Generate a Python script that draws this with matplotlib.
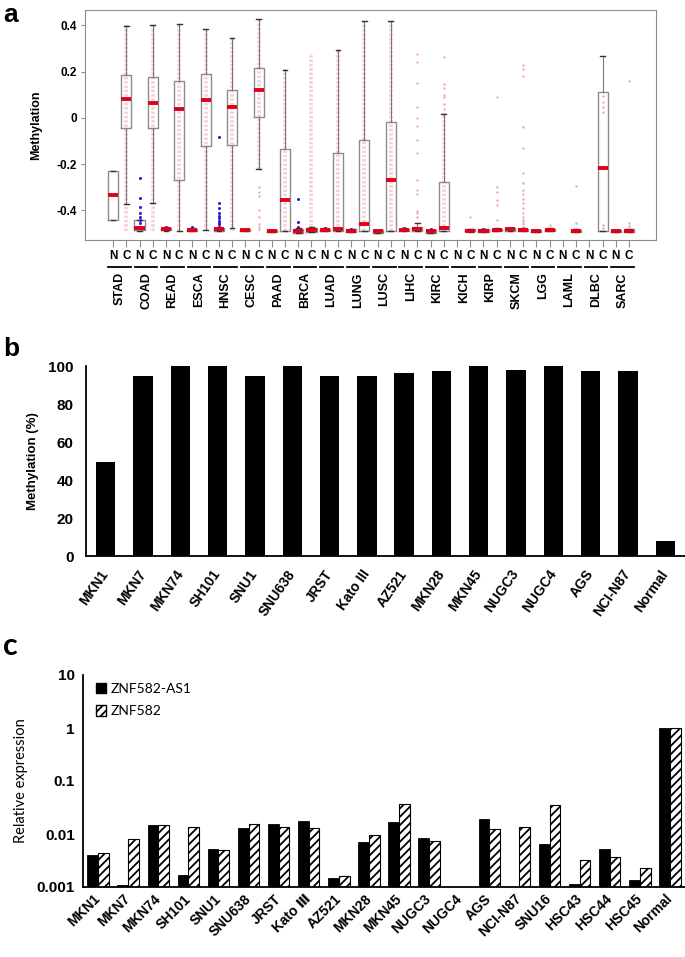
import numpy as np
import matplotlib
matplotlib.use("Agg")
import matplotlib.pyplot as plt
from matplotlib.patches import Patch
from matplotlib.transforms import blended_transform_factory

plt.rcParams["font.family"] = ["Liberation Sans", "DejaVu Sans"]
plt.rcParams["hatch.linewidth"] = 1.3

# ---------------- panel a : TCGA methylation, normal (N) vs cancer (C)
cancers = ["STAD", "COAD", "READ", "ESCA", "HNSC", "CESC", "PAAD", "BRCA", "LUAD", "LUNG",
           "LUSC", "LIHC", "KIRC", "KICH", "KIRP", "SKCM", "LGG", "LAML", "DLBC", "SARC"]

# box stats: (q1, median, q3, whisker low, whisker high); None = no normal samples
normal_stats = [
    (-0.442, -0.335, -0.230, -0.442, -0.230),
    (-0.485, -0.475, -0.442, -0.488, -0.440),
    (-0.485, -0.480, -0.475, -0.487, -0.473),
    (-0.490, -0.485, -0.479, -0.491, -0.477),
    (-0.489, -0.481, -0.475, -0.491, -0.472),
    (-0.490, -0.486, -0.481, -0.491, -0.480),
    (-0.493, -0.490, -0.485, -0.494, -0.484),
    (-0.496, -0.488, -0.479, -0.497, -0.476),
    (-0.490, -0.485, -0.480, -0.491, -0.478),
    (-0.494, -0.488, -0.482, -0.495, -0.480),
    (-0.496, -0.490, -0.484, -0.497, -0.483),
    (-0.489, -0.484, -0.479, -0.490, -0.477),
    (-0.496, -0.490, -0.484, -0.497, -0.483),
    None,
    (-0.494, -0.488, -0.482, -0.495, -0.480),
    (-0.488, -0.482, -0.477, -0.489, -0.476),
    (-0.494, -0.489, -0.484, -0.495, -0.483),
    None,
    None,
    (-0.494, -0.489, -0.484, -0.495, -0.483),
]
cancer_stats = [
    (-0.046, 0.081, 0.183, -0.374, 0.399),
    (-0.042, 0.062, 0.177, -0.367, 0.403),
    (-0.269, 0.037, 0.160, -0.489, 0.407),
    (-0.122, 0.075, 0.190, -0.485, 0.383),
    (-0.118, 0.045, 0.122, -0.475, 0.347),
    (0.004, 0.119, 0.214, -0.220, 0.427),
    (-0.489, -0.354, -0.135, -0.490, 0.206),
    (-0.492, -0.485, -0.477, -0.494, -0.470),
    (-0.489, -0.479, -0.150, -0.490, 0.292),
    (-0.489, -0.458, -0.094, -0.490, 0.417),
    (-0.488, -0.269, -0.019, -0.490, 0.417),
    (-0.489, -0.482, -0.470, -0.490, -0.453),
    (-0.489, -0.476, -0.276, -0.490, 0.016),
    (-0.491, -0.487, -0.481, -0.492, -0.479),
    (-0.490, -0.486, -0.479, -0.491, -0.476),
    (-0.490, -0.485, -0.479, -0.491, -0.476),
    (-0.490, -0.486, -0.480, -0.491, -0.478),
    (-0.493, -0.489, -0.483, -0.494, -0.481),
    (-0.488, -0.217, 0.112, -0.490, 0.266),
    (-0.492, -0.487, -0.481, -0.493, -0.479),
]
# range covered by the dense cloud of cancer samples (None = sparse only)
cancer_cloud = [(-0.49, 0.40), (-0.49, 0.40), (-0.49, 0.41), (-0.49, 0.38), (-0.49, 0.35),
                (-0.22, 0.43), (-0.49, 0.21), (-0.49, 0.28), (-0.49, 0.29), (-0.49, 0.42),
                (-0.49, 0.42), None, (-0.49, 0.02), None, None, None, None, None, None, None]
cancer_points = {
    "CESC": [-0.30, -0.32, -0.34, -0.40, -0.43, -0.46, -0.47, -0.48],
    "LIHC": [0.278, 0.242, 0.151, 0.047, 0.001, -0.036, -0.096, -0.154, -0.269, -0.312,
             -0.33, -0.401, -0.413, -0.43],
    "KIRC": [0.263, 0.148, 0.13, 0.10, 0.09, 0.06, 0.04],
    "KICH": [-0.429],
    "KIRP": [0.088, -0.30, -0.32, -0.355, -0.375, -0.44],
    "SKCM": [0.227, 0.21, 0.18, -0.039, -0.132, -0.24, -0.28, -0.31, -0.33, -0.35, -0.37,
             -0.39, -0.41, -0.43, -0.44, -0.45, -0.46, -0.47],
    "LGG": [-0.463],
    "LAML": [-0.295, -0.456],
    "DLBC": [0.095, 0.07, 0.045, 0.025, -0.463, -0.478],
    "SARC": [0.16, -0.453, -0.468],
}
normal_fliers = {
    "COAD": [-0.258, -0.345, -0.384, -0.41, -0.427, -0.44, -0.455, -0.47],
    "READ": [-0.470],
    "ESCA": [-0.472],
    "HNSC": [-0.082, -0.370, -0.390, -0.41, -0.425, -0.435, -0.445, -0.455, -0.46, -0.47],
    "BRCA": [-0.350, -0.449, -0.470],
    "LUAD": [-0.475],
    "LUNG": [-0.479],
    "LIHC": [-0.475],
    "KIRC": [-0.482],
    "KIRP": [-0.479],
}

# ---------------- panel b : methylation in cell lines
lines_b = ["MKN1", "MKN7", "MKN74", "SH101", "SNU1", "SNU638", "JRST", "Kato III", "AZ521",
           "MKN28", "MKN45", "NUGC3", "NUGC4", "AGS", "NCI-N87", "Normal"]
methyl_pct = [49.3, 94.9, 100, 100, 94.9, 100, 94.9, 94.9, 96.3, 97.2, 100, 97.9, 100,
              97.2, 97.2, 7.7]

# ---------------- panel c : relative expression
lines_c = ["MKN1", "MKN7", "MKN74", "SH101", "SNU1", "SNU638", "JRST", "Kato Ⅲ", "AZ521",
           "MKN28", "MKN45", "NUGC3", "NUGC4", "AGS", "NCI-N87", "SNU16", "HSC43", "HSC44",
           "HSC45", "Normal"]
expr_as1 = [0.0040, 0.0011, 0.0146, 0.00167, 0.0053, 0.0128, 0.0157, 0.0179, 0.00148, 0.0070,
            0.0167, 0.0085, np.nan, 0.0190, np.nan, 0.0065, 0.00112, 0.0053, 0.00138, 1.0]
expr_znf = [0.0043, 0.0079, 0.0146, 0.0136, 0.0049, 0.0157, 0.0136, 0.0128, 0.00164, 0.0097,
            0.0371, 0.0074, np.nan, 0.0126, 0.0134, 0.0350, 0.00326, 0.00371, 0.00233, 1.0]

W, H = 685, 957
fig = plt.figure(figsize=(W / 100, H / 100), dpi=100)


def px_axes(left, top, right, bottom):
    return fig.add_axes([left / W, 1 - bottom / H, (right - left) / W, (bottom - top) / H])


PINK = "#f0a8b8"
GRAY = "#8c8c8c"

# ---- a
axa = px_axes(85, 10, 656, 240)
pos_n = np.arange(len(cancers)) * 2
pos_c = pos_n + 1

for i, name in enumerate(cancers):
    if cancer_cloud[i] is not None:
        lo, hi = cancer_cloud[i]
        # dense column of samples, drawn as a speckled band
        axa.vlines(pos_c[i], lo, hi, color=PINK, lw=2.6, alpha=0.55, zorder=1,
                   linestyles=(0, (0.7, 0.5)))
    pts = cancer_points.get(name, [])
    if pts:
        axa.scatter(np.full(len(pts), pos_c[i]), pts, s=3, color=PINK, lw=0, zorder=1)


def as_stats(s, fl):
    q1, med, q3, lo, hi = s
    return dict(q1=q1, med=med, q3=q3, whislo=lo, whishi=hi, fliers=fl)


box_kw = dict(widths=0.76, capwidths=0.36, manage_ticks=False, zorder=2,
              boxprops=dict(color=GRAY, lw=1.0),
              whiskerprops=dict(color="#777777", lw=0.8),
              capprops=dict(color="#333333", lw=1.0),
              medianprops=dict(color="#e0001a", lw=2.8, solid_capstyle="butt"),
              flierprops=dict(marker="o", ms=2.2, mfc="#2a1fd6", mec="none"))

n_idx = [i for i, s in enumerate(normal_stats) if s is not None]
axa.bxp([as_stats(normal_stats[i], normal_fliers.get(cancers[i], [])) for i in n_idx],
        positions=pos_n[n_idx], **box_kw)
axa.bxp([as_stats(s, []) for s in cancer_stats], positions=pos_c, **box_kw)

axa.set_xlim(-2.12, 41.04)
axa.set_ylim(-0.528, 0.466)
axa.set_yticks([0.4, 0.2, 0, -0.2, -0.4])
axa.set_yticklabels(["0.4", "0.2", "0", "-0.2", "-0.4"], fontsize=8.5, fontweight="bold")
ticks = np.sort(np.concatenate([pos_n, pos_c]))
axa.set_xticks(ticks)
axa.set_xticklabels(["N", "C"] * len(cancers), fontsize=8.5, fontweight="bold")
axa.tick_params(axis="x", length=5, color=GRAY, pad=2)
axa.tick_params(axis="y", length=3, color=GRAY, pad=3)
for sp in axa.spines.values():
    sp.set_color(GRAY)
axa.set_ylabel("Methylation", fontsize=9, fontweight="bold")
axa.yaxis.set_label_coords(-0.075, 0.5)

trans = blended_transform_factory(axa.transData, axa.transAxes)
for i, name in enumerate(cancers):
    axa.plot([pos_n[i] - 0.35, pos_c[i] + 0.35], [-0.118, -0.118], transform=trans,
             color="black", lw=1.3, clip_on=False)
    axa.text(pos_n[i] + 0.5, -0.14, name, transform=trans, rotation=90, ha="center",
             va="top", fontsize=9, fontweight="bold")

# ---- b
axb = px_axes(86, 366, 685, 556)
xb = np.arange(len(lines_b))
axb.bar(xb, methyl_pct, width=0.52, color="black")
axb.set_xlim(-0.53, len(lines_b) - 0.47)
axb.set_ylim(0, 100)
axb.set_yticks(np.arange(0, 101, 20))
axb.set_yticklabels([str(v) for v in range(0, 101, 20)], fontsize=11, fontweight="bold")
axb.set_xticks(xb)
axb.set_xticklabels(lines_b, fontsize=10, fontweight="bold", rotation=55, ha="right",
                    va="center", rotation_mode="anchor")
axb.tick_params(axis="y", length=0, pad=9)
axb.tick_params(axis="x", length=0, pad=11)
axb.spines[["top", "right"]].set_visible(False)
for sp in ("left", "bottom"):
    axb.spines[sp].set_linewidth(1.3)
axb.set_ylabel("Methylation (%)", fontsize=9.5, fontweight="bold")
axb.yaxis.set_label_coords(-0.078, 0.5)

# ---- c
axc = px_axes(83, 675, 685, 887)
xc = np.arange(len(lines_c))
bw = 0.355
axc.bar(xc - bw / 2, expr_as1, width=bw, color="black", edgecolor="black", lw=0.6)
axc.bar(xc + bw / 2, expr_znf, width=bw, color="white", edgecolor="black", lw=0.8,
        hatch="////")
axc.set_yscale("log")
axc.set_ylim(1e-3, 10)
axc.set_xlim(-0.5, len(lines_c) - 0.5)
axc.set_yticks([1e-3, 1e-2, 1e-1, 1, 10])
axc.set_yticklabels(["0.001", "0.01", "0.1", "1", "10"], fontsize=11, fontweight="bold")
axc.minorticks_off()
axc.set_xticks(xc)
axc.set_xticklabels(lines_c, fontsize=10, fontweight="bold", rotation=45, ha="right",
                    va="center", rotation_mode="anchor")
axc.tick_params(axis="y", length=0, pad=6)
axc.tick_params(axis="x", length=0, pad=7)
axc.spines[["top", "right"]].set_visible(False)
for sp in ("left", "bottom"):
    axc.spines[sp].set_linewidth(1.3)
axc.set_ylabel("Relative expression", fontsize=10.5, family="Lato")
axc.yaxis.set_label_coords(-0.091, 0.5)
handles = [Patch(facecolor="black", edgecolor="black"),
           Patch(facecolor="white", edgecolor="black", hatch="////")]
axc.legend(handles, ["ZNF582-AS1", "ZNF582"], loc="upper left",
           bbox_to_anchor=((96 - 83) / 602, (887 - 683) / 212), frameon=False,
           borderpad=0, borderaxespad=0, handlelength=0.75, handleheight=0.75,
           handletextpad=0.3, labelspacing=0.75, prop=dict(family="Lato", size=10))

# panel letters
fig.text(3 / W, 1 - 22 / H, "a", fontsize=19, fontweight="bold", va="baseline")
fig.text(3 / W, 1 - 356 / H, "b", fontsize=19, fontweight="bold", va="baseline")
fig.text(3 / W, 1 - 655 / H, "c", fontsize=22, fontweight="bold", family="Lato",
         va="baseline")

fig.savefig("out.png", dpi=100)
